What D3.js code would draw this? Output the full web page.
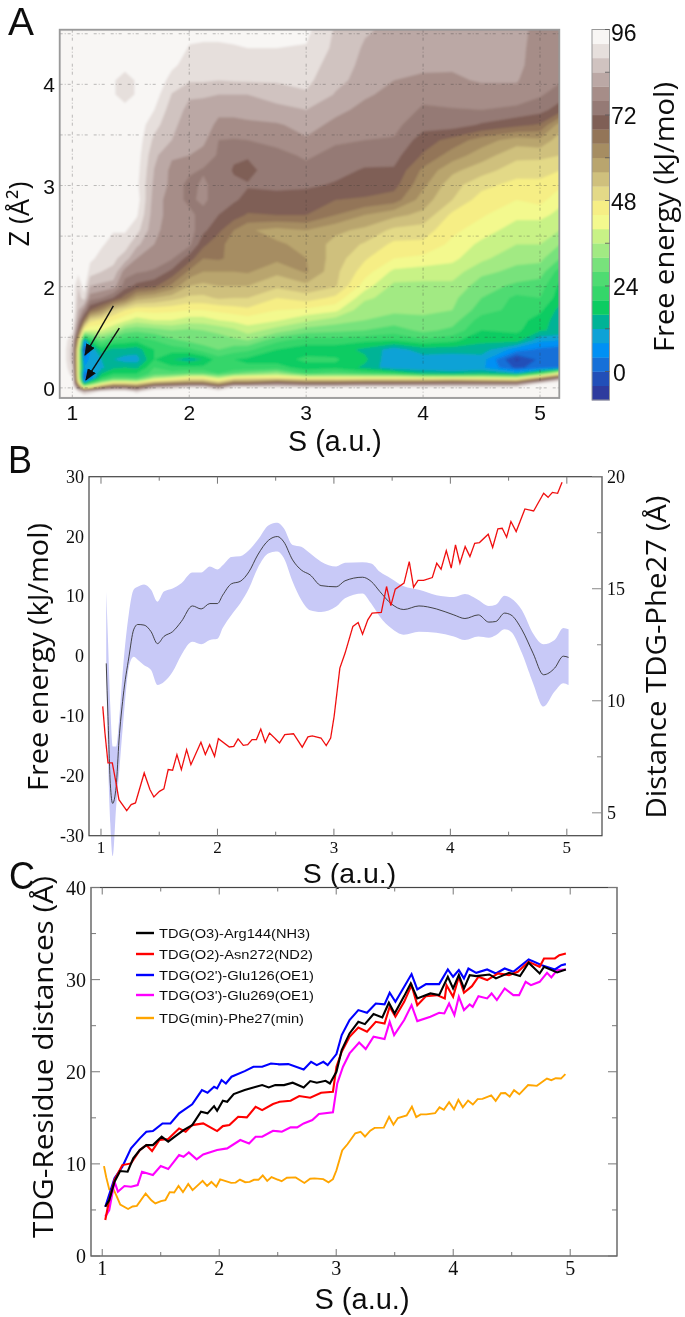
<!DOCTYPE html>
<html><head><meta charset="utf-8">
<script src="https://cdn.jsdelivr.net/npm/d3@7/dist/d3.min.js"></script>
<style>html,body{margin:0;padding:0;background:#fff}svg{display:block}text{fill:#111}</style></head>
<body><svg id="c" width="685" height="1317" xmlns="http://www.w3.org/2000/svg"></svg>
<script>
// ---------- Panel A data: free-energy surface, one array per S column, Z rows from bottom to top
const surfaceS=[0.89,1,1.05,1.1,1.15,1.25,1.35,1.45,1.55,1.7,1.85,2,2.12,2.25,2.38,2.5,2.75,3,3.25,3.5,3.75,4,4.25,4.5,4.8,5,5.17];
const surfaceZ=[0.90,0.96,1.0,1.04,1.07,1.10,1.14,1.20,1.28,1.38,1.47,1.57,1.67,1.77,1.89,2.01,2.15,2.28,2.42,2.56,2.71,2.86,3.01,3.15,3.30,3.45,3.60,3.75,3.90,4.04,4.19,4.36,4.54];
const surfaceColumns=[
[98,98,98,98,98,98,98,98,98,98,98,98,98,98,98,98,98,98,98,98,98,98,98,98,98,98,98,98,98,98,98,98,98],
[98,98,97,94,93,92,90,88,86,86,88,93,95,96,96,95,96,97,98,98,98,98,98,98,98,98,98,98,98,98,98,98,98],
[97,92,75,55,45,42,40,40,40,42,55,72,80,84,86,88,93,96,98,98,98,98,98,98,98,98,98,98,98,98,98,98,98],
[98,85,45,14,5,0,2,8,4,-5,8,42,66,78,90,94,97,98,98,98,98,98,98,98,98,98,98,98,98,98,98,98,98],
[98,88,50,25,14,3,5,10,9,7,20,40,50,68,78,84,90,93,96,97,98,98,98,98,98,98,98,98,98,98,98,98,98],
[98,94,68,40,26,20,16,11,12,18,28,40,47,62,76,83,88,90.5,92.5,94,96,97,98,98,98,98,98,98,98,98,98,98,98],
[98,96,76,52,34,25,20,15,12,15,23,36,44,52,72,82,87,89,90.5,92.3,94,95,96,96,96,96,95,94,92.4,92.4,95,97,98],
[98,97,75,52,34,25,20,16,10,15,22,30,41,48,66,74,78,86,90,92.5,94,95,95,95,95,94,94,93.5,90,90,93.5,95,96],
[98,90,70,50,32,24,20,15,10,14,21,29,38,45,58,71,76.5,80,85,89.5,92.5,94,93,93.5,94,94.5,94.5,94,92.4,92.4,95,97,98],
[98,98,85,62,46,34,26,24,20,20,24,30,40,45.5,56,69,75.5,78,80,81,81.5,82,83,83.8,85,87,89.5,92,94,96,97,98,98],
[98,98,88,66,50,38,26,21,16,22,27,32,40,45,53.5,63,71,76.5,77.5,78,78.5,78,79,79,80.5,84,85,86,87.8,90,93,96,98],
[98,98,92,68,54,44,28,21,14,23,29,31,38,44,51,56,63,70,77,78,77,75,74.5,77,80,81,82,83,84.5,88.5,90,91.5,94],
[98,98,92,68,54,44,28,21,16,26,30,32,38,44,51,55,60,64,69,73,74.5,77,76.8,75.5,78.5,81,82,83,84.3,88.5,90,91,94],
[98,96,82,58,46,36,24,20,22,28,30,33,40,45,52.5,56,60,64.5,65,69,72,73.5,74,75,75.5,76,79,81,84,88,90,91,94],
[98,98,94,70,56,44,28,21,20,26,31,35,41,46,52,56,60,63,62.5,64,70,72.5,73,71.5,72.8,75.7,79,81,84,88.3,90,91.5,94],
[98,98,94,70,56,46,30,21,19,25,32,38,42,47,52,56,60.5,62,60,60.5,67.5,71,72.3,70.5,72.5,76,79.5,81,84,88.5,90,92,94],
[98,98,93,76,60,46,34,22,18,20,25,34,40.5,44,48,53,57,61,60.5,58.5,68,70.5,73,75,75,77,79.5,83,85.5,88.5,90,92,94],
[98,98,92,72,56,42,24,18,21,18,22,30,37,43,50,55,60.5,60,59,60,68,69.5,73,75,76.5,79.5,81.5,84,87.5,89,90,91.7,93],
[98,98,93,72,56,42,26,19,20.5,18,22,29,34,41,47,52.5,53,54,54.5,57,64,68,71.5,73.5,75,76.5,79,81,83.7,85,86,87,87.5],
[98,98,94,74,58,42,24,15,17,15,21,28,32,33,37,42,46,48.5,51.5,55,60,67.5,70,71.5,74,76,78,79,80.5,82.7,83,83.5,84.5],
[98,98,94,74,58,42,22,9,8,10,20,26,30,33,34,35,39,44,47,51,57,66,69.5,71.5,73.5,75.7,77,78,79,80,81,82,83],
[98,98,94,75,58,40,16,9,10,14,23,29,31,33,34,35,38,43,47,50,55,58,61,63,67.5,70,73.5,75.5,77,79.5,80.5,81.5,82],
[98,98,94,76,60,40,14,9,9,14,21,27,30,32,33,35,38,41,43,45,47,52,53.5,57,62,66.5,74,75.8,77.5,79.5,80.4,81,81.5],
[98,98,94,76,58,40,16,9,10,14,17,20,22,26,28,30,33,37,39,42,44.5,46,49.5,53.5,58,62,71.5,76,78.5,80.3,81,81.5,82],
[98,98,94,76,56,36,12,-1,-5,6,17.5,21,22,22.5,23,27,31,33,36,38,41,44,46.5,50,53,58,69,75,78.5,80.3,81,81,81],
[98,98,98,92,74,56,24,2,1,3,9,16.5,18,21,24,26,30,33,36,38,41,45.5,47,49.5,53,59,67.5,73.5,76.5,77,78,78.5,79],
[98,98,98,97,90,74,44,3,1,2,8,15,14,14.5,18,19,22,28,32,36,39,41,45,48,52,54,58,70,74,76.5,77,77,77.5]
];
const energyLevels=[-8,-4,0,4,8,12,16,20,24,28,32,36,40,44,48,52,56,60,64,68,72,76,80,84,88,92];
const levelColors=["#2f3a9e","#2050b8","#1570d8","#0090f4","#0aa2d6","#05b396","#0ccc62","#35d66b","#4fdb72","#78e27c","#a2ea83","#c8f286","#f3f98e","#f6ee85","#e3d987","#cfc07d","#b9a56e","#a68d62","#937558","#7f5e56","#957a74","#a68d88","#bba8a5","#d0c3c0","#e6dfdc","#f8f6f4"];
const colorbarTicks=[96,72,48,24,0];
const colorbarMinor=[84,60,36,12];
const sTicksA=[1,2,3,4,5];
const zTickPositions=[1,2,3,4];
const zTickLabels=["0","2","3","4"];
const zGrid=[1,1.5,2,2.5,3,3.5,4,4.5];
const arrowStarts=[[1.351,1.81],[1.402,1.59]];
const arrowTips=[[1.109,1.326],[1.117,1.08]];

// ---------- Panel B data
const feS=[1.045,1.06,1.08,1.10,1.13,1.155,1.19,1.24,1.28,1.315,1.37,1.43,1.485,1.54,1.615,1.69,1.785,1.86,1.935,2.0,2.045,2.12,2.195,2.27,2.345,2.44,2.515,2.57,2.645,2.72,2.795,2.89,3.02,3.095,3.245,3.32,3.395,3.49,3.60,3.73,3.88,4.03,4.125,4.24,4.33,4.39,4.465,4.52,4.615,4.71,4.80,4.895,4.97,5.015];
const feMean=[-1.2,-10.1,-21.3,-24.6,-21.8,-14,-6.8,-0.1,4.4,5.3,5.2,4.1,2.1,3.3,4.1,5.8,8.4,7.9,8.8,8.8,10.2,12.1,12.5,14.1,16.9,19.4,20,19.1,16.1,14.4,13.6,11.8,11.6,12.6,13.2,12.5,10.8,8.8,7.8,8.4,7.9,6.9,6.3,6.9,5.7,5.8,7.2,6.9,4.4,0.5,-3.1,-2,0,-0.2];
const feUpper=[10.8,2.7,-8.4,-15.1,-15.1,-10.7,-1.8,7.2,11.1,11.6,12,11.1,9.1,10.8,11.3,12.2,14,14,15,14.5,15.2,16.6,16.7,17.7,19.4,21.9,22.3,21.4,18.6,18.3,17.2,15.8,15,15.6,15.7,15.5,14.1,13,11.7,11.1,10.2,9.9,10.4,9.4,8.4,8.6,10.1,9.7,7.7,3.8,2,2.7,4.7,4.5];
const feLower=[-1.8,-16.8,-28,-33.4,-25.2,-19.6,-11.2,-1.8,-0.1,-0.6,-1.5,-2.3,-4.8,-4.3,-2.6,0.2,2.4,2,2.7,2.9,4.7,6.9,8.8,11.3,14.7,17.2,17.5,16.4,12.5,9.4,7.7,7.4,8.3,9.7,10.5,8.8,6.6,4.7,3.6,4.1,3.9,3.3,2.7,3.3,3.1,3.5,4.5,4.1,0.5,-4.5,-8.4,-5.9,-4.5,-4.8];
const pheS=[1.015,1.034,1.06,1.097,1.124,1.154,1.221,1.259,1.296,1.371,1.42,1.454,1.502,1.54,1.577,1.615,1.652,1.69,1.735,1.772,1.858,1.896,1.933,1.975,2.008,2.102,2.14,2.177,2.222,2.26,2.297,2.335,2.372,2.41,2.447,2.533,2.578,2.653,2.728,2.777,2.814,2.889,2.934,2.972,3.002,3.051,3.096,3.163,3.208,3.246,3.291,3.328,3.407,3.452,3.489,3.527,3.602,3.647,3.684,3.722,3.77,3.845,3.883,3.92,3.965,4.007,4.044,4.082,4.127,4.168,4.209,4.25,4.325,4.363,4.408,4.445,4.483,4.52,4.565,4.64,4.715,4.801,4.839,4.876,4.921,4.959];
const pheDist=[9.75,8.56,7.23,7.23,6.48,5.59,5.1,5.37,5.44,6.78,6.04,5.71,5.96,6.07,6.93,6.9,7.6,6.93,7.82,7.15,8.15,7.6,8.04,7.52,8.31,7.94,7.97,8.3,8.01,8.04,8.27,8.27,8.74,8.15,8.56,8.12,8.49,8.53,7.93,8.39,8.43,8.34,8,8.34,9.31,11.46,12.13,13.32,13.49,12.97,13.61,13.91,13.94,15.1,14.25,14.98,15.25,16.21,15.07,15.37,15.37,15.5,16.14,15.87,16.7,15.92,16.96,16.14,16.88,16.44,17.03,17.06,17.43,16.84,17.67,17.7,17.3,18,17.55,18.56,18.47,19.26,19.08,19.3,19.26,19.75];
const sTicksB=[1,2,3,4,5];
const sMinorB=[1.5,2.5,3.5,4.5];
const feTicks=[30,20,10,0,-10,-20,-30];
const distTicksB=[20,15,10,5];
const distMinorB=[17.5,12.5,7.5];

// ---------- Panel C data
const argS=[1.026,1.06,1.105,1.153,1.217,1.265,1.321,1.377,1.433,1.508,1.564,1.62,1.695,1.769,1.844,1.9,1.956,1.982,2.031,2.068,2.124,2.218,2.292,2.367,2.423,2.479,2.554,2.628,2.722,2.778,2.834,2.909,2.946,3.002,3.047,3.114,3.189,3.245,3.319,3.394,3.45,3.499,3.581,3.637,3.693,3.805,3.88,3.954,3.999,4.048,4.092,4.141,4.197,4.309,4.365,4.477,4.571,4.645,4.739,4.776,4.888,4.963];
const argDist=[5.35,6.08,8.07,9.22,9.15,10.6,11.5,12.04,12.04,12.95,12.41,12.95,13.67,14.21,15.66,15.48,16.27,15.77,16.85,16.74,17.58,18.01,18.3,18.55,18.3,18.55,18.55,18.81,18.3,18.99,18.81,19.02,18.73,20,22.35,24.16,25.42,25.17,26.26,25.9,27.49,26.33,28.21,29.58,27.96,28.5,28.32,30.31,29.04,30.49,29.04,30.49,30.38,30.56,30.13,30.74,30.38,31.83,30.67,31.39,30.78,31.1];
const asnS=[1.026,1.06,1.105,1.172,1.246,1.321,1.377,1.426,1.489,1.564,1.657,1.713,1.769,1.863,1.982,2.031,2.087,2.162,2.236,2.311,2.367,2.46,2.516,2.61,2.684,2.778,2.871,2.972,3.002,3.047,3.114,3.189,3.263,3.338,3.413,3.457,3.506,3.581,3.644,3.693,3.768,3.861,3.928,3.943,3.999,4.048,4.092,4.16,4.216,4.29,4.384,4.477,4.552,4.645,4.739,4.776,4.869,4.907,4.963];
const asnDist=[3.91,6.08,8.25,9.87,10.05,11.5,12.04,11.39,12.59,12.69,13.85,13.49,14.21,14.39,13.56,14.1,14.21,15.12,15.05,16.2,15.84,16.49,16.74,16.85,17.36,17.18,17.72,17.83,20.54,22.17,23.8,24.81,24.34,25.42,25.24,27.05,25.97,27.59,29.4,27.23,28.21,28.32,27.96,29.4,28.14,30.31,28.57,29.29,30.31,29.95,30.67,30.49,30.85,31.93,31.39,32.3,32.3,32.66,32.84];
const gluS=[1.026,1.105,1.172,1.246,1.321,1.377,1.433,1.515,1.583,1.657,1.769,1.852,1.9,1.956,1.982,2.02,2.057,2.105,2.218,2.292,2.367,2.442,2.516,2.591,2.722,2.785,2.834,2.89,2.927,3.002,3.047,3.114,3.189,3.263,3.338,3.413,3.457,3.506,3.581,3.644,3.693,3.768,3.88,3.954,3.999,4.048,4.092,4.13,4.197,4.29,4.365,4.44,4.514,4.645,4.757,4.869,4.925,4.963];
const gluDist=[5.35,8.43,9.69,11.68,12.77,13.49,13.56,14.39,14.39,15.48,16.46,18.01,17.72,18.37,18.19,19.1,18.73,19.46,20.07,20.54,20.54,20.9,20.8,20.83,20.25,21.08,20.72,21.08,20.72,21.92,23.98,25.61,26.69,26.4,27.41,27.31,28.57,27.59,29.22,30.6,28.93,29.51,29.51,31.1,30.31,31.03,30.13,31.21,30.74,31.1,30.67,31.21,30.85,32.19,31.57,31.1,31.57,31.68];
const glu269S=[1.026,1.06,1.105,1.134,1.19,1.246,1.303,1.34,1.433,1.5,1.564,1.657,1.695,1.74,1.807,1.863,1.982,2.068,2.18,2.255,2.311,2.367,2.46,2.535,2.61,2.666,2.722,2.796,2.852,2.972,3.009,3.058,3.114,3.196,3.252,3.319,3.413,3.457,3.495,3.581,3.644,3.693,3.805,3.88,3.924,3.965,4.01,4.048,4.092,4.141,4.167,4.216,4.29,4.328,4.373,4.44,4.514,4.563,4.619,4.664,4.739,4.802,4.839,4.888,4.963];
const glu269Dist=[4.27,4.99,8.07,6.98,7.59,7.52,7.7,9.15,8.79,9.76,9.44,10.96,10.78,11.25,10.49,11.03,11.5,11.68,12.59,12.22,12.95,12.95,13.6,13.49,13.96,13.96,14.39,14.76,15.41,15.59,18.73,20.54,21.99,23.18,22.46,23.8,23.54,25.42,23.98,25.61,27.23,25.5,25.97,26.4,26.33,27.41,26.15,28.14,26.69,27.31,27.05,28.21,27.96,28.5,27.78,29.04,28.32,28.32,29.76,29.4,29.76,30.74,30.24,31.03,31.1];
const legendLabels=["TDG(O3)-Arg144(NH3)","TDG(O2)-Asn272(ND2)","TDG(O2')-Glu126(OE1)","TDG(O3')-Glu269(OE1)","TDG(min)-Phe27(min)"];
const legendColors=["#000000","#ff0000","#0000ff","#ff00ff","#ffa500"];
const sTicksC=[1,2,3,4,5];
const sMinorC=[1.5,2.5,3.5,4.5];
const distTicksC=[40,30,20,10,0];
const distMinorC=[35,25,15,5];

// ---------- Drawing
const svg=d3.select("#c");
const defs=svg.append("defs");
defs.append("filter").attr("id","soft").attr("x","-5%").attr("y","-5%").attr("width","110%").attr("height","110%")
  .append("feGaussianBlur").attr("stdDeviation",0.8);
defs.append("filter").attr("id","softer").attr("filterUnits","userSpaceOnUse").attr("x",0).attr("y",0).attr("width",685).attr("height",1317)
  .append("feGaussianBlur").attr("stdDeviation",0.45);
const SANS="'Open Sans',sans-serif", ARIAL="'Liberation Sans',Arial,sans-serif", SERIF="'Liberation Serif',serif";
const root=svg.append("g").attr("filter","url(#softer)");
function label(t,x,y,size,opts={}){
  const s=root.append("text").attr("x",x).attr("y",y).attr("font-size",size).attr("font-family",opts.font||SANS)
    .attr("text-anchor",opts.anchor||"middle").text(t);
  if(opts.rot) s.attr("transform",`rotate(${opts.rot} ${x} ${y})`);
  if(opts.len) s.attr("textLength",opts.len).attr("lengthAdjust","spacingAndGlyphs");
  return s;
}
label("A",21,35,38,{font:ARIAL,len:26});
label("B",20,473,38,{font:ARIAL,len:24});
label("C",22,889,38,{font:ARIAL,len:26});

// Panel A
const ax=d3.scaleLinear().domain([0.892,5.165]).range([59.7,559.3]);
const ay=d3.scaleLinear().domain([0.9,4.54]).range([398,29.7]);
defs.append("clipPath").attr("id","clipA").append("rect").attr("x",59.7).attr("y",29.7).attr("width",499.6).attr("height",368.3);
const gA=root.append("g").attr("clip-path","url(#clipA)");
const gHeat=gA.append("g").attr("filter","url(#soft)");
const nx=surfaceS.length, ny=surfaceZ.length;
const flat=[];
for(let j=0;j<ny;j++) for(let i=0;i<nx;i++) flat.push(surfaceColumns[i][j]);
const gxS=d3.scaleLinear().domain(d3.range(nx).map(i=>i+0.5)).range(surfaceS).clamp(true);
const gyZ=d3.scaleLinear().domain(d3.range(ny).map(i=>i+0.5)).range(surfaceZ).clamp(true);
const conts=d3.contours().size([nx,ny]).smooth(true).thresholds(energyLevels)(flat);
const proj=d3.geoTransform({point(x,y){this.stream.point(ax(gxS(x)),ay(gyZ(y)));}});
const cPath=d3.geoPath(proj);
gHeat.append("rect").attr("x",40).attr("y",10).attr("width",540).attr("height",410).attr("fill",levelColors[0]);
gHeat.selectAll("path").data(conts).join("path").attr("d",cPath).attr("fill",(d,i)=>levelColors[i]).attr("stroke",(d,i)=>levelColors[i]).attr("stroke-width",0.4);
// grid
const gridStyle=s=>s.attr("stroke","#333").attr("stroke-width",0.7).attr("stroke-opacity",0.45).attr("stroke-dasharray","3 2 1 2 3 6");
gA.selectAll(".gv").data(sTicksA).join("line").attr("class","gv").call(gridStyle).attr("x1",d=>ax(d)).attr("x2",d=>ax(d)).attr("y1",29.7).attr("y2",398);
gA.selectAll(".gh").data(zGrid).join("line").attr("class","gh").call(gridStyle).attr("y1",d=>ay(d)).attr("y2",d=>ay(d)).attr("x1",59.7).attr("x2",559.3);
// arrows
defs.append("marker").attr("id","ah").attr("viewBox","0 0 10 8").attr("refX",9).attr("refY",4).attr("markerWidth",12).attr("markerHeight",9.6).attr("markerUnits","userSpaceOnUse").attr("orient","auto")
  .append("path").attr("d","M0,0L10,4L0,8Z").attr("fill","#111");
root.selectAll(".arr").data(arrowStarts).join("line").attr("class","arr").attr("x1",d=>ax(d[0])).attr("y1",d=>ay(d[1]))
  .attr("x2",(d,i)=>ax(arrowTips[i][0])).attr("y2",(d,i)=>ay(arrowTips[i][1]))
  .attr("stroke","#111").attr("stroke-width",1.4).attr("marker-end","url(#ah)");
root.append("rect").attr("x",59.7).attr("y",29.7).attr("width",499.6).attr("height",368.3).attr("fill","none").attr("stroke","#9a9a9a").attr("stroke-width",1.8);
sTicksA.forEach(v=>label(v,ax(v),420,21,{font:ARIAL}));
zTickPositions.forEach((v,i)=>label(zTickLabels[i],55,ay(v)+8,21,{font:ARIAL,anchor:"end"}));
label("S (a.u.)",335,450.5,28.6,{font:ARIAL});
label("Z (Å²)",29,214,27,{rot:-90});
// colorbar
const cb=d3.scaleLinear().domain([-8,96]).range([400,29.5]);
const gCb=root.append("g");
gCb.selectAll("rect").data(energyLevels).join("rect").attr("x",592).attr("width",17.5)
  .attr("y",d=>cb(d+4)).attr("height",d=>cb(d)-cb(d+4)+0.3).attr("fill",(d,i)=>levelColors[i]);
gCb.append("rect").attr("x",592).attr("y",29.5).attr("width",17.5).attr("height",370.5).attr("fill","none").attr("stroke","#999").attr("stroke-width",1);
gCb.selectAll(".t").data(colorbarMinor.concat(colorbarTicks)).join("line").attr("class","t").attr("x1",605).attr("x2",609.5).attr("y1",d=>cb(d)).attr("y2",d=>cb(d)).attr("stroke","#555").attr("stroke-width",0.8);
colorbarTicks.forEach(v=>label(v,v===24||v===0?613:611,cb(v)+9+(v===96?2:0),23,{font:ARIAL,anchor:"start"}));
label("Free energy (kJ/mol)",674,217,26.5,{rot:-90,len:270});

// Panel B
const bx=d3.scaleLinear().domain([0.897,5.302]).range([89,602]);
const by=d3.scaleLinear().domain([-30,30]).range([835.7,476.7]);
const by2=d3.scaleLinear().domain([3.98,20]).range([835.7,476.7]);
const gB=root.append("g");
const areaB=d3.area().x((d,i)=>bx(feS[i])).y0((d,i)=>by(feLower[i])).y1((d,i)=>by(feUpper[i])).curve(d3.curveMonotoneX);
gB.append("path").attr("d",areaB(feS)).attr("fill","#c8c9f7");
gB.append("path").attr("d",d3.line().x((d,i)=>bx(feS[i])).y(d=>by(d)).curve(d3.curveMonotoneX)(feMean)).attr("fill","none").attr("stroke","#333").attr("stroke-width",0.9);
gB.append("path").attr("d",d3.line().x((d,i)=>bx(pheS[i])).y(d=>by2(d))(pheDist)).attr("fill","none").attr("stroke","#f01010").attr("stroke-width",1.3);
gB.append("rect").attr("x",89).attr("y",476.7).attr("width",513).attr("height",359).attr("fill","none").attr("stroke","#444").attr("stroke-width",1.2);
const tickB=(vals,len)=>vals.forEach(v=>{[[835.7,-len],[476.7,len]].forEach(([y,d])=>gB.append("line").attr("x1",bx(v)).attr("x2",bx(v)).attr("y1",y).attr("y2",y+d).attr("stroke","#777").attr("stroke-width",1));});
tickB(sTicksB,7);tickB(sMinorB,4);
distTicksB.forEach(v=>gB.append("line").attr("x1",602).attr("x2",592).attr("y1",by2(v)).attr("y2",by2(v)).attr("stroke","#888"));
distMinorB.forEach(v=>gB.append("line").attr("x1",602).attr("x2",597).attr("y1",by2(v)).attr("y2",by2(v)).attr("stroke","#888"));
sTicksB.forEach(v=>label(v,bx(v),852.5,17,{font:SERIF}));
feTicks.forEach(v=>label(v,84,by(v)+6,18,{font:SERIF,anchor:"end"}));
distTicksB.forEach(v=>label(v,607,by2(v)+6,18,{font:SERIF,anchor:"start"}));
label("S (a.u.)",349.5,883,28.5,{font:ARIAL});
label("Free energy (kJ/mol)",48,657,26.5,{rot:-90,len:268});
label("Distance TDG-Phe27 (Å)",666,657,26.5,{rot:-90,len:323});

// Panel C
const cx=d3.scaleLinear().domain([0.904,5.40]).range([91,617]);
const cy=d3.scaleLinear().domain([0,40]).range([1256,887.5]);
const gC=root.append("g");
const series=[[argS,argDist],[asnS,asnDist],[gluS,gluDist],[glu269S,glu269Dist],[pheS,pheDist]];
const order=[4,3,2,1,0];
order.forEach(k=>{
  const [xs,ys]=series[k];
  gC.append("path").attr("d",d3.line().x((d,i)=>cx(xs[i])).y(d=>cy(d))(ys)).attr("fill","none").attr("stroke",legendColors[k]).attr("stroke-width",k===4?1.9:2.1);
});
gC.append("rect").attr("x",91).attr("y",887.5).attr("width",526).attr("height",368.5).attr("fill","none").attr("stroke","#444").attr("stroke-width",1.2);
const tickC=(vals,len)=>vals.forEach(v=>{[[1256,-len],[887.5,len]].forEach(([y,d])=>gC.append("line").attr("x1",cx(v)).attr("x2",cx(v)).attr("y1",y).attr("y2",y+d).attr("stroke","#777").attr("stroke-width",1));});
tickC(sTicksC,7);tickC(sMinorC,4);
const tickCy=(vals,len)=>vals.forEach(v=>{[[91,len],[617,-len]].forEach(([x,d])=>gC.append("line").attr("x1",x).attr("x2",x+d).attr("y1",cy(v)).attr("y2",cy(v)).attr("stroke","#777").attr("stroke-width",1));});
tickCy(distTicksC,9);tickCy(distMinorC,5);
sTicksC.forEach(v=>label(v,cx(v),1275,20,{font:SERIF}));
distTicksC.forEach(v=>label(v,86,cy(v)+7,20,{font:SERIF,anchor:"end"}));
label("S (a.u.)",362,1309,29,{font:ARIAL});
label("TDG-Residue distances (Å)",53,1057,28,{rot:-90,len:362});
const legendY=[933,954,975,995,1018];
legendLabels.forEach((t,i)=>{
  gC.append("line").attr("x1",136).attr("x2",154).attr("y1",legendY[i]).attr("y2",legendY[i]).attr("stroke",legendColors[i]).attr("stroke-width",2.4);
  label(t,159,legendY[i]+5,13,{font:ARIAL,anchor:"start",len:[151,154,155,155,145][i]});
});
</script></body></html>
